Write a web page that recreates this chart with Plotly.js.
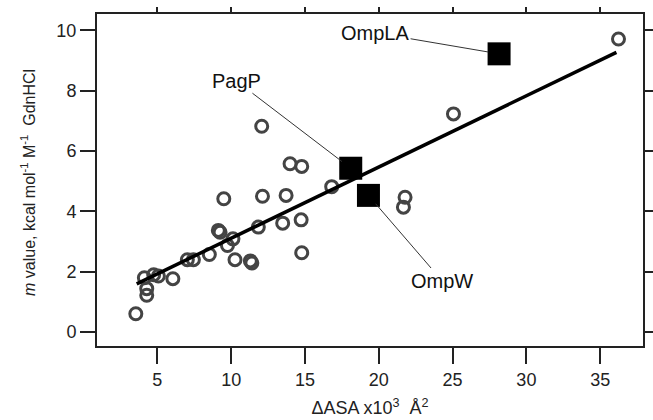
<!DOCTYPE html>
<html>
<head>
<meta charset="utf-8">
<script src="https://cdn.plot.ly/plotly-3.0.1.min.js"></script>
<style>html,body{margin:0;padding:0;background:#fff;}#chart{width:653px;height:420px;}</style>
</head>
<body>
<div id="chart"></div>
<script>
// Open circles: other proteins (ΔASA x10^3 Å^2, m value)
var circleX = [3.54, 4.28, 4.12, 4.28, 4.75, 5.07, 6.05, 7.03, 7.44, 8.52, 9.50, 9.13, 9.25, 9.75, 10.12, 10.26, 11.30, 11.40, 11.84, 12.12, 12.07, 13.49, 13.72, 13.99, 14.74, 14.78, 14.78, 16.81, 21.78, 21.67, 25.06, 36.24];
var circleY = [0.61, 1.22, 1.80, 1.44, 1.90, 1.86, 1.77, 2.40, 2.40, 2.57, 4.42, 3.37, 3.31, 2.87, 3.09, 2.40, 2.36, 2.29, 3.48, 4.50, 6.82, 3.61, 4.53, 5.58, 3.72, 2.63, 5.49, 4.82, 4.47, 4.14, 7.23, 9.71];
// Filled squares: labelled outer membrane proteins
var squareNames = ["OmpLA", "PagP", "OmpW"];
var squareX = [28.15, 18.10, 19.30];
var squareY = [9.22, 5.43, 4.53];
// Label positions (data coords) for the leader lines
var labelX = [19.75, 10.33, 24.27];
var labelY = [9.92, 8.33, 1.71];
// Linear fit end points
var fitX = [3.6, 36.1];
var fitY = [1.60, 9.27];
var xTicks = [5, 10, 15, 20, 25, 30, 35];
var yTicks = [0, 2, 4, 6, 8, 10];
var yTitle = '<i>m</i> value, kcal mol<sup>-1</sup> M<sup>-1</sup>  GdnHCl';
var xTitle = 'ΔASA x10<sup>3</sup>  Å<sup>2</sup>';

var xRange = [0.91, 37.9];
var yRange = [-0.46, 10.54];
var axCol = '#222';
var font = 'Liberation Sans, Arial, Helvetica, sans-serif';

var traces = [
  {x: circleX, y: circleY, type: 'scatter', mode: 'markers', hoverinfo: 'skip',
   marker: {symbol: 'circle-open', size: 12, color: '#444', line: {width: 3, color: '#444'}}},
  {x: fitX, y: fitY, type: 'scatter', mode: 'lines', hoverinfo: 'skip',
   line: {color: '#000', width: 3.5}},
  {x: squareX, y: squareY, type: 'scatter', mode: 'markers', hoverinfo: 'skip',
   marker: {symbol: 'square', size: 23, color: '#000', line: {width: 0}}},
  {x: [xRange[0]], y: [yRange[0]], xaxis: 'x2', yaxis: 'y2', type: 'scatter', mode: 'markers',
   hoverinfo: 'skip', marker: {opacity: 0, size: 1}}
];

var annotations = squareNames.map(function (n, i) {
  return {x: squareX[i], y: squareY[i], xref: 'x', yref: 'y',
    ax: labelX[i], ay: labelY[i], axref: 'x', ayref: 'y',
    text: n, showarrow: true, arrowhead: 0, arrowwidth: 1, arrowcolor: '#333',
    standoff: 11, font: {family: font, size: 20, color: '#111'}};
});
annotations.push({text: yTitle, xref: 'paper', yref: 'paper', x: -0.1264, y: 0.494,
  xanchor: 'center', yanchor: 'middle', textangle: -90, showarrow: false,
  font: {family: font, size: 16, color: '#222'}});

var layout = {
  width: 653, height: 420,
  margin: {l: 97, r: 10, t: 14, b: 74, pad: 0},
  paper_bgcolor: '#fff', plot_bgcolor: '#fff',
  showlegend: false,
  font: {family: font, color: '#222', size: 18},
  xaxis: {range: xRange, tickvals: xTicks, ticks: 'outside', ticklen: 16, tickwidth: 2, tickcolor: axCol,
    showline: true, linewidth: 2, linecolor: axCol, showgrid: false, zeroline: false,
    tickfont: {size: 18, color: '#222'},
    title: {text: xTitle, font: {size: 18, color: '#222'}, standoff: 13}},
  yaxis: {range: yRange, tickvals: yTicks, ticks: 'outside', ticklen: 15, tickwidth: 2, tickcolor: axCol,
    showline: true, linewidth: 2, linecolor: axCol, showgrid: false, zeroline: false,
    tickfont: {size: 18, color: '#222'}},
  xaxis2: {range: xRange, overlaying: 'x', side: 'top', tickvals: xTicks, ticks: 'outside', ticklen: 5, tickwidth: 2,
    tickcolor: axCol, showline: true, linewidth: 2, linecolor: axCol, showgrid: false, zeroline: false, showticklabels: false},
  yaxis2: {range: yRange, overlaying: 'y', side: 'right', tickvals: yTicks, ticks: 'outside', ticklen: 12, tickwidth: 2,
    tickcolor: axCol, showline: true, linewidth: 2, linecolor: axCol, showgrid: false, zeroline: false, showticklabels: false},
  annotations: annotations
};

Plotly.newPlot('chart', traces, layout, {staticPlot: true, displayModeBar: false});
</script>
</body>
</html>
